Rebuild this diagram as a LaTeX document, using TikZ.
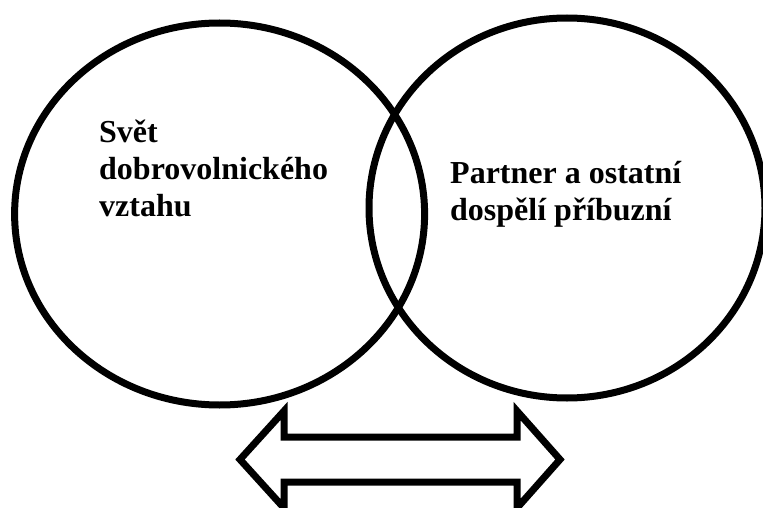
\documentclass[tikz,border=0pt]{standalone}
\usepackage{fontspec}
\setmainfont{Liberation Serif}
\usepackage{tikz}
\usetikzlibrary{shapes.geometric}
\tikzset{%
    sphere/.style={%
        draw, ellipse, line width=7pt, inner sep=0pt
    },
    label text/.style={%
        align=left, inner sep=0pt, anchor=base west,
        font=\fontsize{32}{37}\selectfont\bfseries
    },
    swap arrow/.style={%
        draw, line width=7pt, miter limit=10
    }
}
\begin{document}
\begin{tikzpicture}[x=1pt,y=-1pt]
    \useasboundingbox (0,0) rectangle (763,508);
%-----------------------------------------------
    \node[sphere, minimum width=410pt, minimum height=382pt] (volunteer) at (219.6,214) {};
    \node[sphere, minimum width=396pt, minimum height=380pt] (family) at (567,208) {};
%-----------------------------------------------
    \node[label text] (world) at (99,216.5) {Svět\\dobrovolnického\\vztahu};
    \node[label text] (kin) at (450,220) {Partner a ostatní\\dospělí příbuzní};
%-----------------------------------------------
    \draw[swap arrow] (240,459.5) -- (284,411) -- (284,437) -- (517,437) -- (517,411)
        -- (560,459.5) -- (517,508) -- (517,482) -- (284,482) -- (284,508) -- cycle;
\end{tikzpicture}
\end{document}
